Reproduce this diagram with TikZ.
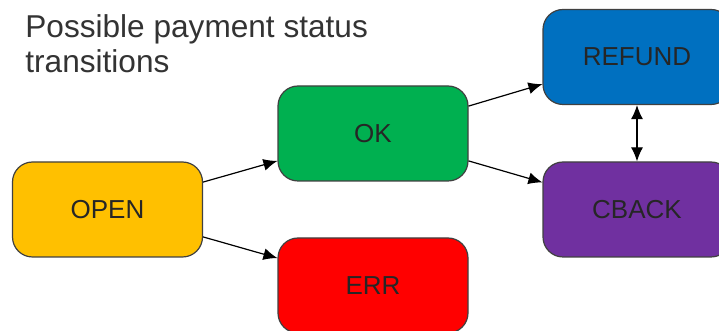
\documentclass[tikz,border=0pt]{standalone}
\usepackage{fontspec}
\setmainfont{Liberation Sans}
\usepackage{tikz}
\usetikzlibrary{arrows.meta}

\definecolor{openyellow}{HTML}{FFC000}
\definecolor{okgreen}{HTML}{00B050}
\definecolor{errred}{HTML}{FF0000}
\definecolor{refundblue}{HTML}{0070C0}
\definecolor{cbackpurple}{HTML}{7030A0}

\begin{document}
\begin{tikzpicture}[x=0.5pt, y=-0.5pt,
    state/.style={draw=black!75, line width=0.6pt, rounded corners=10pt,
        minimum width=95pt, minimum height=47.5pt, inner sep=0pt,
        text=black!85, font=\fontsize{13}{15}\selectfont},
    trans/.style={-{Latex[length=7pt,width=6pt]}, line width=0.6pt}]
\useasboundingbox (0,0) rectangle (719,331);
\clip (0,0) rectangle (719,331);

\node[anchor=north west, align=left, inner sep=0pt, text=black!80,
    font=\fontsize{15.8}{17.5}\selectfont] (title) at (25,14)
    {Possible payment status\\transitions};

\node[state, fill=openyellow] (open) at (107.5,209.5) {OPEN};
\node[state, fill=okgreen] (ok) at (373,133.5) {OK};
\node[state, fill=errred] (err) at (373,285.5) {ERR};
\node[state, fill=refundblue, minimum width=94pt] (refund) at (637,57) {REFUND};
\node[state, fill=cbackpurple, minimum width=94pt] (cback) at (637,209.5) {CBACK};

\draw[trans] (open.16) -- (ok.196);
\draw[trans] (open.-16) -- (err.164);
\draw[trans] (ok.16) -- (refund.196);
\draw[trans] (ok.-16) -- (cback.164);
\draw[trans, {Latex[length=7pt,width=6pt]}-{Latex[length=7pt,width=6pt]}] (refund) -- (cback);

\end{tikzpicture}
\end{document}
